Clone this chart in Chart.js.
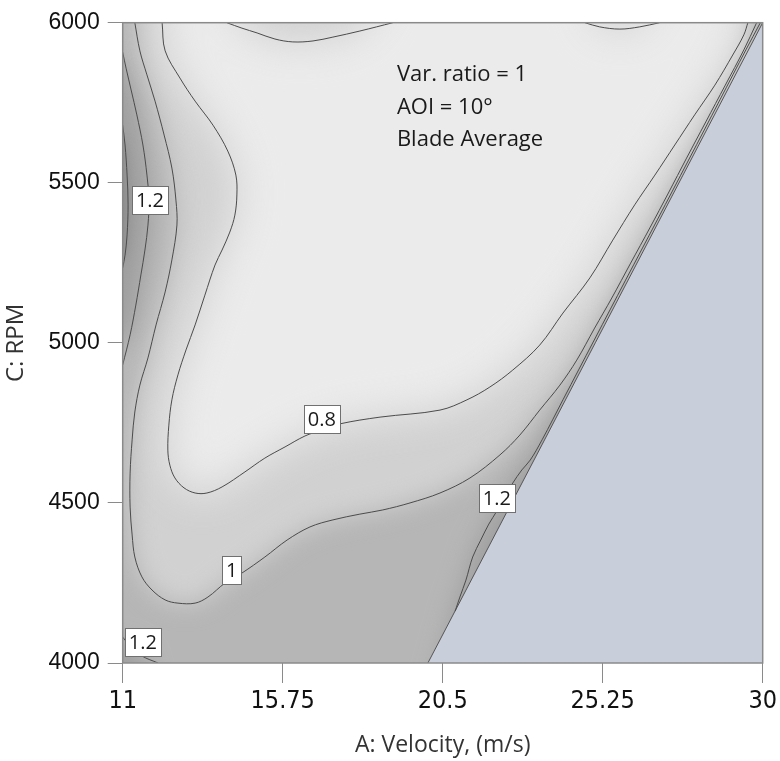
<!DOCTYPE html>
<html>
<head>
<meta charset="utf-8">
<script src="https://cdn.jsdelivr.net/npm/chart.js@4/dist/chart.umd.min.js"></script>
<style>
  html, body { margin: 0; padding: 0; background: #ffffff; }
  #wrap { width: 780px; height: 761px; }
</style>
</head>
<body>
<div id="wrap"><canvas id="chart" width="780" height="761"></canvas></div>
<script>
// Axis ticks
const velocityTicks = [11, 15.75, 20.5, 25.25, 30];
const rpmTicks = [4000, 4500, 5000, 5500, 6000];

// Contour lines, as [velocity (m/s), RPM] pairs
const contour14Left = [[11.00,5680],[11.07,5618],[11.13,5524],[11.16,5431],[11.13,5337],[11.07,5274],[11.00,5234]];
const contour12Left = [[11.00,5908],[11.10,5858],[11.25,5790],[11.42,5712],[11.60,5618],[11.72,5524],[11.78,5446],[11.75,5368],[11.66,5290],[11.54,5212],[11.39,5118],[11.22,5025],[11.00,4931]];
const contour12Corner = [[11.00,4081],[11.22,4053],[11.57,4022],[12.05,4000]];
const contour12Right = [[20.87,4162],[21.01,4206],[21.19,4259],[21.39,4331],[21.63,4384],[21.87,4434],[22.11,4475],[22.34,4519],[22.58,4562],[22.85,4603],[23.10,4634],[23.45,4697],[24.07,4822],[25.00,5009],[25.93,5196],[26.87,5384],[27.80,5571],[28.73,5759],[29.50,5915],[29.93,6000]];
const contour10 = [[11.36,6000],[11.51,5912],[11.72,5837],[11.96,5755],[12.23,5649],[12.46,5546],[12.58,5446],[12.61,5368],[12.46,5259],[12.26,5159],[11.99,5056],[11.75,4953],[11.51,4868],[11.36,4784],[11.28,4697],[11.22,4593],[11.22,4487],[11.28,4400],[11.36,4331],[11.57,4269],[11.87,4228],[12.26,4197],[12.64,4187],[13.15,4187],[13.53,4206],[14.04,4250],[14.54,4281],[15.22,4331],[15.88,4384],[16.56,4425],[17.24,4447],[18.04,4465],[18.72,4478],[19.53,4500],[20.42,4531],[21.31,4578],[22.20,4650],[22.79,4712],[23.38,4790],[23.98,4868],[24.48,4946],[25.01,5046],[25.52,5140],[26.08,5249],[26.65,5359],[27.20,5468],[27.74,5577],[28.31,5690],[28.89,5805],[29.44,5915],[29.82,6000]];
const contour08Main = [[12.17,6000],[12.26,5912],[12.70,5827],[13.15,5755],[13.68,5680],[14.12,5599],[14.36,5524],[14.39,5462],[14.33,5399],[14.18,5346],[13.95,5290],[13.74,5243],[13.44,5149],[13.15,5056],[12.88,4978],[12.64,4900],[12.46,4822],[12.37,4743],[12.34,4665],[12.40,4618],[12.55,4578],[12.82,4547],[13.15,4531],[13.50,4531],[13.95,4550],[14.63,4597],[15.22,4640],[15.82,4675],[16.41,4709],[16.91,4728],[17.45,4747],[18.64,4768],[20.42,4790],[21.22,4822],[21.90,4862],[22.58,4915],[23.38,4993],[24.07,5093],[24.87,5203],[25.55,5321],[26.20,5431],[26.80,5524],[27.39,5618],[27.98,5712],[28.58,5805],[29.11,5899],[29.44,5962],[29.56,6000]];
const contour08TopA = [[14.09,6000],[14.54,5983],[14.99,5968],[15.52,5949],[16.05,5940],[16.65,5943],[17.24,5955],[18.04,5974],[19.02,6000]];
const contour08TopB = [[24.72,6000],[25.16,5987],[25.76,5980],[26.35,5987],[26.94,6000]];
// Edge of the design space; everything to its right is outside it
const designEdge = [[20.06,4000],[30,6000]];

// Contour value labels
const labelText = ['1.2', '0.8', '1', '1.2', '1.2'];
const labelVel = [11.81, 16.91, 14.24, 11.60, 22.11];
const labelRpm = [5446, 4762, 4290, 4066, 4515];

// Factor settings note
const noteLines = ['Var. ratio = 1', 'AOI = 10\u00B0', 'Blade Average'];
const noteVel = 19.14;
const noteRpm = [5837, 5734, 5634];

// Band fills (from the highest level down to the lowest), each softened by its own blur
const rev = a => a.slice().reverse();
const bands = [
  { color: '#8b8b8b', blur: 6, pts: contour14Left },
  { color: '#b6b6b6', blur: 12, pts: [[11,6000],[29.93,6000]].concat(rev(contour12Right), [[20.06,4000]], rev(contour12Corner), rev(contour12Left)) },
  { color: '#d1d1d1', blur: 12, pts: contour10 },
  { color: '#ebebeb', blur: 20, pts: contour08Main.concat(rev(contour08TopB), rev(contour08TopA)) }
];
const baseShade = '#9e9e9e';

const toXY = arr => arr.map(p => ({ x: p[0], y: p[1] }));
const lineSet = arr => ({
  data: toXY(arr), borderColor: '#4b4b4b', borderWidth: 1, pointRadius: 0,
  tension: 0.35, fill: false, order: 1
});

const shadingPlugin = {
  id: 'shading',
  beforeDatasetsDraw(chart) {
    const { ctx, chartArea: a, scales: { x, y } } = chart;
    ctx.save();
    ctx.beginPath();
    ctx.rect(a.left, a.top, a.right - a.left, a.bottom - a.top);
    ctx.clip();
    ctx.fillStyle = baseShade;
    ctx.fillRect(a.left, a.top, a.right - a.left, a.bottom - a.top);
    bands.forEach(b => {
      ctx.filter = 'blur(' + b.blur + 'px)';
      ctx.beginPath();
      b.pts.forEach((p, i) => {
        let px = x.getPixelForValue(p[0]);
        let py = y.getPixelForValue(p[1]);
        // push vertices lying on the frame outward so the blur does not fade at the edges
        if (px <= a.left + 0.5) px = a.left - 50;
        if (px >= a.right - 0.5) px = a.right + 50;
        if (py <= a.top + 0.5) py = a.top - 50;
        if (py >= a.bottom - 0.5) py = a.bottom + 50;
        if (i === 0) ctx.moveTo(px, py); else ctx.lineTo(px, py);
      });
      ctx.closePath();
      ctx.fillStyle = b.color;
      ctx.fill();
    });
    ctx.restore();
  },
  afterDatasetsDraw(chart) {
    const { ctx, chartArea: a, scales: { x, y } } = chart;
    ctx.save();
    // frame
    ctx.strokeStyle = '#8a8a8a';
    ctx.lineWidth = 1.5;
    ctx.strokeRect(a.left, a.top, a.right - a.left, a.bottom - a.top);
    // contour value labels
    ctx.font = '20px "Open Sans", sans-serif';
    ctx.textAlign = 'center';
    ctx.textBaseline = 'middle';
    labelText.forEach((t, i) => {
      const cx = x.getPixelForValue(labelVel[i]);
      const cy = y.getPixelForValue(labelRpm[i]);
      const w = Math.round(ctx.measureText(t).width + 8);
      const h = 28;
      const bx = Math.round(cx - w / 2), by = Math.round(cy - h / 2);
      ctx.fillStyle = '#ffffff';
      ctx.fillRect(bx, by, w, h);
      ctx.strokeStyle = '#707070';
      ctx.lineWidth = 1;
      ctx.strokeRect(bx + 0.5, by + 0.5, w, h);
      ctx.fillStyle = '#1a1a1a';
      ctx.fillText(t, cx, cy + 1);
    });
    // factor note
    ctx.font = '22px "Open Sans", sans-serif';
    ctx.textAlign = 'left';
    ctx.fillStyle = '#1a1a1a';
    noteLines.forEach((t, i) => {
      ctx.fillText(t, x.getPixelForValue(noteVel), y.getPixelForValue(noteRpm[i]));
    });
    ctx.restore();
  }
};

const datasets = [
  lineSet(contour08Main),
  lineSet(contour08TopA),
  lineSet(contour08TopB),
  lineSet(contour10),
  lineSet(contour12Left),
  lineSet(contour12Corner),
  lineSet(contour12Right),
  lineSet(contour14Left),
  {
    data: toXY(designEdge), borderColor: '#555555', borderWidth: 1, pointRadius: 0,
    tension: 0, fill: 'start', backgroundColor: '#c9cedb', order: 5
  }
];

new Chart(document.getElementById('chart'), {
  type: 'line',
  data: { datasets },
  plugins: [shadingPlugin],
  options: {
    responsive: false,
    devicePixelRatio: 1,
    animation: false,
    layout: { padding: { top: 22.7, right: 17, left: 0, bottom: 0 } },
    plugins: { legend: { display: false }, tooltip: { enabled: false } },
    scales: {
      x: {
        type: 'linear', min: 11, max: 30,
        afterBuildTicks: s => { s.ticks = velocityTicks.map(v => ({ value: v })); },
        afterFit: s => { s.height = 98; },
        grid: { display: true, drawOnChartArea: false, drawTicks: true, tickLength: 20, color: '#8a8a8a' },
        border: { display: false },
        ticks: {
          autoSkip: false, maxRotation: 0, padding: 3, color: '#111111',
          font: { family: '"Liberation Sans Narrow", "DejaVu Sans Condensed", Roboto, sans-serif', size: 25 },
          callback: v => String(v)
        },
        title: {
          display: true, text: 'A: Velocity, (m/s)', color: '#333333',
          font: { family: '"Open Sans", sans-serif', size: 23 }, padding: { top: 0, bottom: 2 }
        }
      },
      y: {
        type: 'linear', min: 4000, max: 6000,
        afterBuildTicks: s => { s.ticks = rpmTicks.map(v => ({ value: v })); },
        afterFit: s => { s.width = 122.7; },
        grid: { display: true, drawOnChartArea: false, drawTicks: true, tickLength: 15, color: '#8a8a8a' },
        border: { display: false },
        ticks: {
          autoSkip: false, padding: 8, color: '#111111',
          font: { family: '"Liberation Sans", Arial, sans-serif', size: 23 },
          callback: v => String(v)
        },
        title: {
          display: true, text: 'C: RPM', color: '#333333',
          font: { family: '"Open Sans", sans-serif', size: 24 }, padding: { top: 2, bottom: 0 }
        }
      }
    }
  }
});
</script>
</body>
</html>
